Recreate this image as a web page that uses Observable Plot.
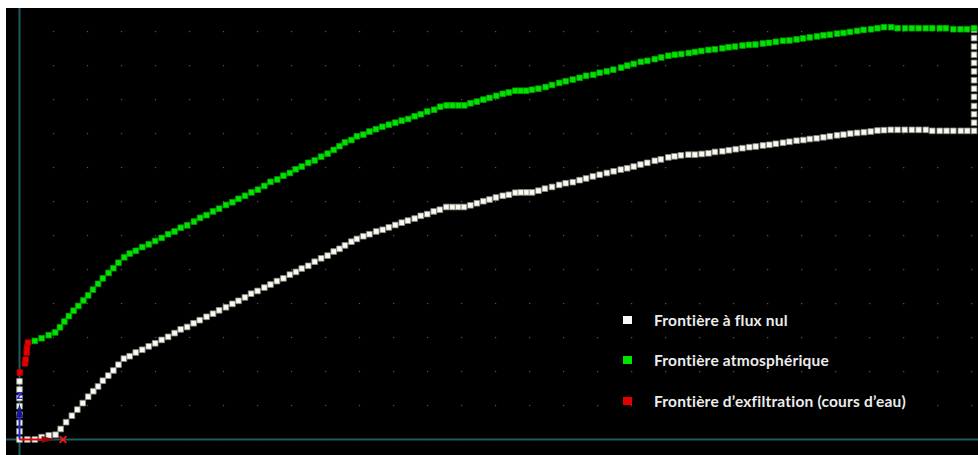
<!DOCTYPE html>
<html>
<head>
<meta charset="utf-8">
<script src="https://cdn.jsdelivr.net/npm/d3@7"></script>
<script src="https://cdn.jsdelivr.net/npm/@observablehq/plot@0.6"></script>
<style>
  html, body { margin: 0; padding: 0; background: #ffffff; }
  body { padding: 8px 0 0 6px; }
  #wrap { position: relative; width: 972px; height: 447px; }
  #legend { position: absolute; left: 0; top: 0; }
  .row { position: absolute; display: flex; align-items: center; height: 20px; }
  .sw { width: 9px; height: 8px; margin-right: 22px; }
  .lab { font-family: Lato, "Open Sans", sans-serif; font-weight: 700; font-size: 15.5px; letter-spacing: 0.2px; color: #ececec; white-space: nowrap; }
</style>
</head>
<body>
<div id="wrap"><div id="legend"></div></div>
<script>
// ---- Data (domain units, one grid step = 1) ----
const legendLabels = ["Frontière à flux nul", "Frontière atmosphérique", "Frontière d’exfiltration (cours d’eau)"];
const seriesColors = ["#fbfaf2", "#00e400", "#e80000"];

// Zero-flux boundary (left side bottom part, bottom, right side)
const zeroFluxX = [0,0,0,0,0,0,0,0,
  0.23,0.45,0.65,0.86,1.06,1.21,1.37,1.54,1.70,1.86,2.02,2.17,2.31,2.45,2.61,2.76,2.91,3.07,3.24,3.42,3.61,3.80,3.99,4.18,4.37,4.56,4.74,4.93,5.12,5.30,5.50,5.69,5.87,6.07,6.26,6.44,6.63,6.81,7.00,7.20,7.38,7.57,7.76,7.95,8.13,8.30,8.49,8.68,8.87,9.06,9.24,9.41,9.57,9.76,9.92,10.11,10.29,10.49,10.68,10.86,11.05,11.24,11.42,11.62,11.80,11.99,12.18,12.36,12.55,12.73,12.90,13.07,13.26,13.45,13.64,13.82,14.01,14.21,14.39,14.58,14.74,14.91,15.07,15.26,15.45,15.66,15.87,16.06,16.27,16.47,16.66,16.86,17.06,17.27,17.47,17.68,17.87,18.06,18.26,18.46,18.68,18.86,19.08,19.26,19.45,19.67,19.86,20.06,20.26,20.45,20.67,20.86,21.06,21.26,21.46,21.65,21.86,22.05,22.24,22.45,22.64,22.85,23.05,23.24,23.44,23.64,23.83,24.04,24.23,24.43,24.63,24.83,25.03,25.23,25.42,25.62,25.82,26.03,26.24,26.44,26.65,26.84,27.06,27.26,27.46,27.68,27.87,28.07,
  28.07,28.07,28.07,28.07,28.07,28.07,28.07,28.07,28.07,28.07,28.07,28.07];
const zeroFluxY = [1.71,1.47,1.22,0.98,0.73,0.49,0.24,0,
  0,0,0.07,0.12,0.14,0.31,0.51,0.70,0.88,1.07,1.26,1.42,1.56,1.73,1.88,2.03,2.20,2.38,2.45,2.56,2.64,2.74,2.83,2.93,3.02,3.13,3.24,3.31,3.42,3.51,3.61,3.70,3.80,3.89,3.99,4.08,4.18,4.29,4.37,4.47,4.56,4.66,4.74,4.85,4.93,5.03,5.11,5.23,5.33,5.41,5.53,5.61,5.71,5.82,5.90,5.98,6.04,6.12,6.17,6.24,6.31,6.38,6.44,6.50,6.58,6.63,6.71,6.76,6.84,6.84,6.84,6.84,6.89,6.95,7.01,7.06,7.12,7.17,7.20,7.26,7.27,7.27,7.27,7.32,7.38,7.43,7.49,7.54,7.57,7.63,7.68,7.74,7.79,7.84,7.89,7.94,7.98,8.03,8.09,8.14,8.20,8.24,8.30,8.33,8.36,8.38,8.38,8.40,8.42,8.46,8.48,8.51,8.54,8.57,8.60,8.62,8.65,8.67,8.70,8.73,8.76,8.79,8.81,8.84,8.86,8.89,8.92,8.95,8.97,9.00,9.02,9.04,9.06,9.09,9.10,9.11,9.11,9.11,9.11,9.11,9.11,9.08,9.08,9.08,9.08,9.08,9.08,9.08,
  9.32,9.57,9.81,10.08,10.32,10.57,10.83,11.08,11.32,11.56,11.81,12.06];

// Atmospheric boundary (top surface)
const atmoX = [0.45,0.65,0.86,1.05,1.19,1.32,1.45,1.59,1.73,1.88,2.02,2.16,2.31,2.45,2.62,2.76,2.91,3.08,3.24,3.42,3.61,3.80,3.99,4.18,4.37,4.56,4.74,4.93,5.13,5.31,5.50,5.69,5.87,6.07,6.26,6.44,6.63,6.82,7.01,7.20,7.38,7.58,7.76,7.95,8.12,8.30,8.49,8.68,8.87,9.06,9.24,9.41,9.57,9.76,9.92,10.11,10.29,10.48,10.67,10.86,11.05,11.24,11.43,11.62,11.80,11.99,12.19,12.37,12.56,12.73,12.91,13.08,13.26,13.45,13.64,13.82,14.02,14.21,14.39,14.58,14.74,14.90,15.07,15.26,15.47,15.66,15.87,16.06,16.27,16.47,16.66,16.87,17.06,17.27,17.46,17.69,17.87,18.06,18.27,18.46,18.68,18.87,19.08,19.27,19.46,19.68,19.86,20.05,20.26,20.45,20.67,20.85,21.04,21.26,21.45,21.64,21.86,22.04,22.24,22.45,22.64,22.85,23.04,23.24,23.45,23.64,23.83,24.04,24.23,24.42,24.63,24.82,25.04,25.23,25.42,25.63,25.82,26.04,26.24,26.44,26.65,26.84,27.06,27.24,27.46,27.67,27.86,28.07];
const atmoY = [2.90,2.98,3.07,3.15,3.30,3.47,3.63,3.79,3.93,4.09,4.24,4.41,4.58,4.74,4.90,5.04,5.20,5.36,5.47,5.55,5.66,5.74,5.84,5.93,6.04,6.12,6.23,6.30,6.41,6.52,6.60,6.71,6.79,6.90,6.98,7.08,7.17,7.27,7.35,7.46,7.58,7.65,7.76,7.84,7.95,8.03,8.14,8.21,8.32,8.41,8.52,8.63,8.74,8.81,8.92,8.97,9.06,9.13,9.20,9.26,9.32,9.38,9.43,9.51,9.57,9.65,9.70,9.79,9.83,9.83,9.83,9.83,9.89,9.94,10.00,10.05,10.11,10.17,10.21,10.26,10.26,10.26,10.29,10.32,10.37,10.43,10.49,10.54,10.59,10.64,10.70,10.73,10.79,10.83,10.88,10.94,11.00,11.05,11.11,11.14,11.19,11.24,11.29,11.32,11.34,11.37,11.40,11.43,11.46,11.48,11.51,11.54,11.56,11.59,11.61,11.62,11.65,11.67,11.70,11.73,11.74,11.77,11.80,11.83,11.86,11.89,11.91,11.94,11.96,11.99,12.02,12.05,12.07,12.10,12.13,12.13,12.10,12.10,12.10,12.10,12.10,12.10,12.10,12.10,12.07,12.07,12.07,12.10];

// Seepage boundary (stream)
const seepX = [0.01,0.16,0.18,0.21,0.22,0.25];
const seepY = [1.97,2.24,2.35,2.56,2.71,2.85];

// Orientation glyph (Z up, x right)
const axisArrows = [
  {name: "Z", x1: 0, y1: 0, x2: 0, y2: 0.66, tipX: 0, tipY: 1.06, lineColor: "#2323c8", headColor: "#16168e", rot: 0},
  {name: "x", x1: 0, y1: 0, x2: 0.68, y2: 0, tipX: 1.06, tipY: 0, lineColor: "#e00000", headColor: "#8a0c0c", rot: 90}
];
const zLabel = [{x: 0, y: 1.29, t: "Z"}];
const xMarker = [{x: 1.28, y: 0}];

// Grid (every unit)
const gridX = d3.range(0, 29);
const gridY = d3.range(0, 13);

// ---- Build tables ----
const zeroFlux = zeroFluxX.map((x, i) => ({x, y: zeroFluxY[i]}));
const atmo = atmoX.map((x, i) => ({x, y: atmoY[i]}));
const seep = seepX.map((x, i) => ({x, y: seepY[i]}));
const grid = d3.cross(gridX, gridY).map(([x, y]) => ({x, y}));

const headSymbol = { draw(ctx, size) { ctx.moveTo(0, 0); ctx.lineTo(3.6, 14); ctx.lineTo(-3.6, 14); ctx.closePath(); } };

const chart = Plot.plot({
  width: 972,
  height: 447,
  marginLeft: 13, marginRight: 0, marginTop: 0, marginBottom: 16,
  style: {background: "#000000"},
  x: {domain: [0, 28.2], axis: null},
  y: {domain: [0, 12.68], axis: null},
  marks: [
    Plot.dot(grid, {x: "x", y: "y", symbol: "square", r: 0.7, fill: "#555555"}),
    Plot.ruleX([{x: 0, y1: -0.5, y2: 12.7}], {x: "x", y1: "y1", y2: "y2", stroke: "#1d5c60", strokeWidth: 2}),
    Plot.ruleY([{y: 0, x1: -0.5, x2: 28.3}], {y: "y", x1: "x1", x2: "x2", stroke: "#1d5c60", strokeWidth: 2}),
    Plot.dot(zeroFlux, {x: "x", y: "y", symbol: "square", r: 3.2, fill: seriesColors[0], stroke: "#8c8c84", strokeWidth: 0.8}),
    Plot.dot(atmo, {x: "x", y: "y", symbol: "square", r: 3.2, fill: seriesColors[1], stroke: "#00a000", strokeWidth: 0.8}),
    Plot.dot(seep, {x: "x", y: "y", symbol: "square", r: 3.2, fill: seriesColors[2], stroke: "#b00000", strokeWidth: 0.8}),
    Plot.link(axisArrows, {x1: "x1", y1: "y1", x2: "x2", y2: "y2", stroke: "lineColor", strokeWidth: 2}),
    Plot.dot(axisArrows, {x: "tipX", y: "tipY", symbol: headSymbol, rotate: "rot", fill: "headColor", stroke: "none", r: 3}),
    Plot.text(zLabel, {x: "x", y: "y", text: "t", fill: "#2a2ae0", fontSize: 9, fontWeight: "bold", fontFamily: "DejaVu Sans"}),
    Plot.dot(xMarker, {x: "x", y: "y", symbol: "times", r: 3.2, stroke: "#ff1414", strokeWidth: 1.8})
  ]
});
document.getElementById("wrap").prepend(chart);

// ---- Legend (inside plot area) ----
const legend = document.getElementById("legend");
const rowTops = [301.5, 342, 382.5];
legendLabels.forEach((lab, i) => {
  const row = document.createElement("div");
  row.className = "row";
  row.style.left = "617px";
  row.style.top = rowTops[i] + "px";
  const sw = document.createElement("div");
  sw.className = "sw";
  sw.style.background = seriesColors[i];
  const t = document.createElement("span");
  t.className = "lab";
  t.textContent = lab;
  row.append(sw, t);
  legend.append(row);
});
</script>
</body>
</html>
